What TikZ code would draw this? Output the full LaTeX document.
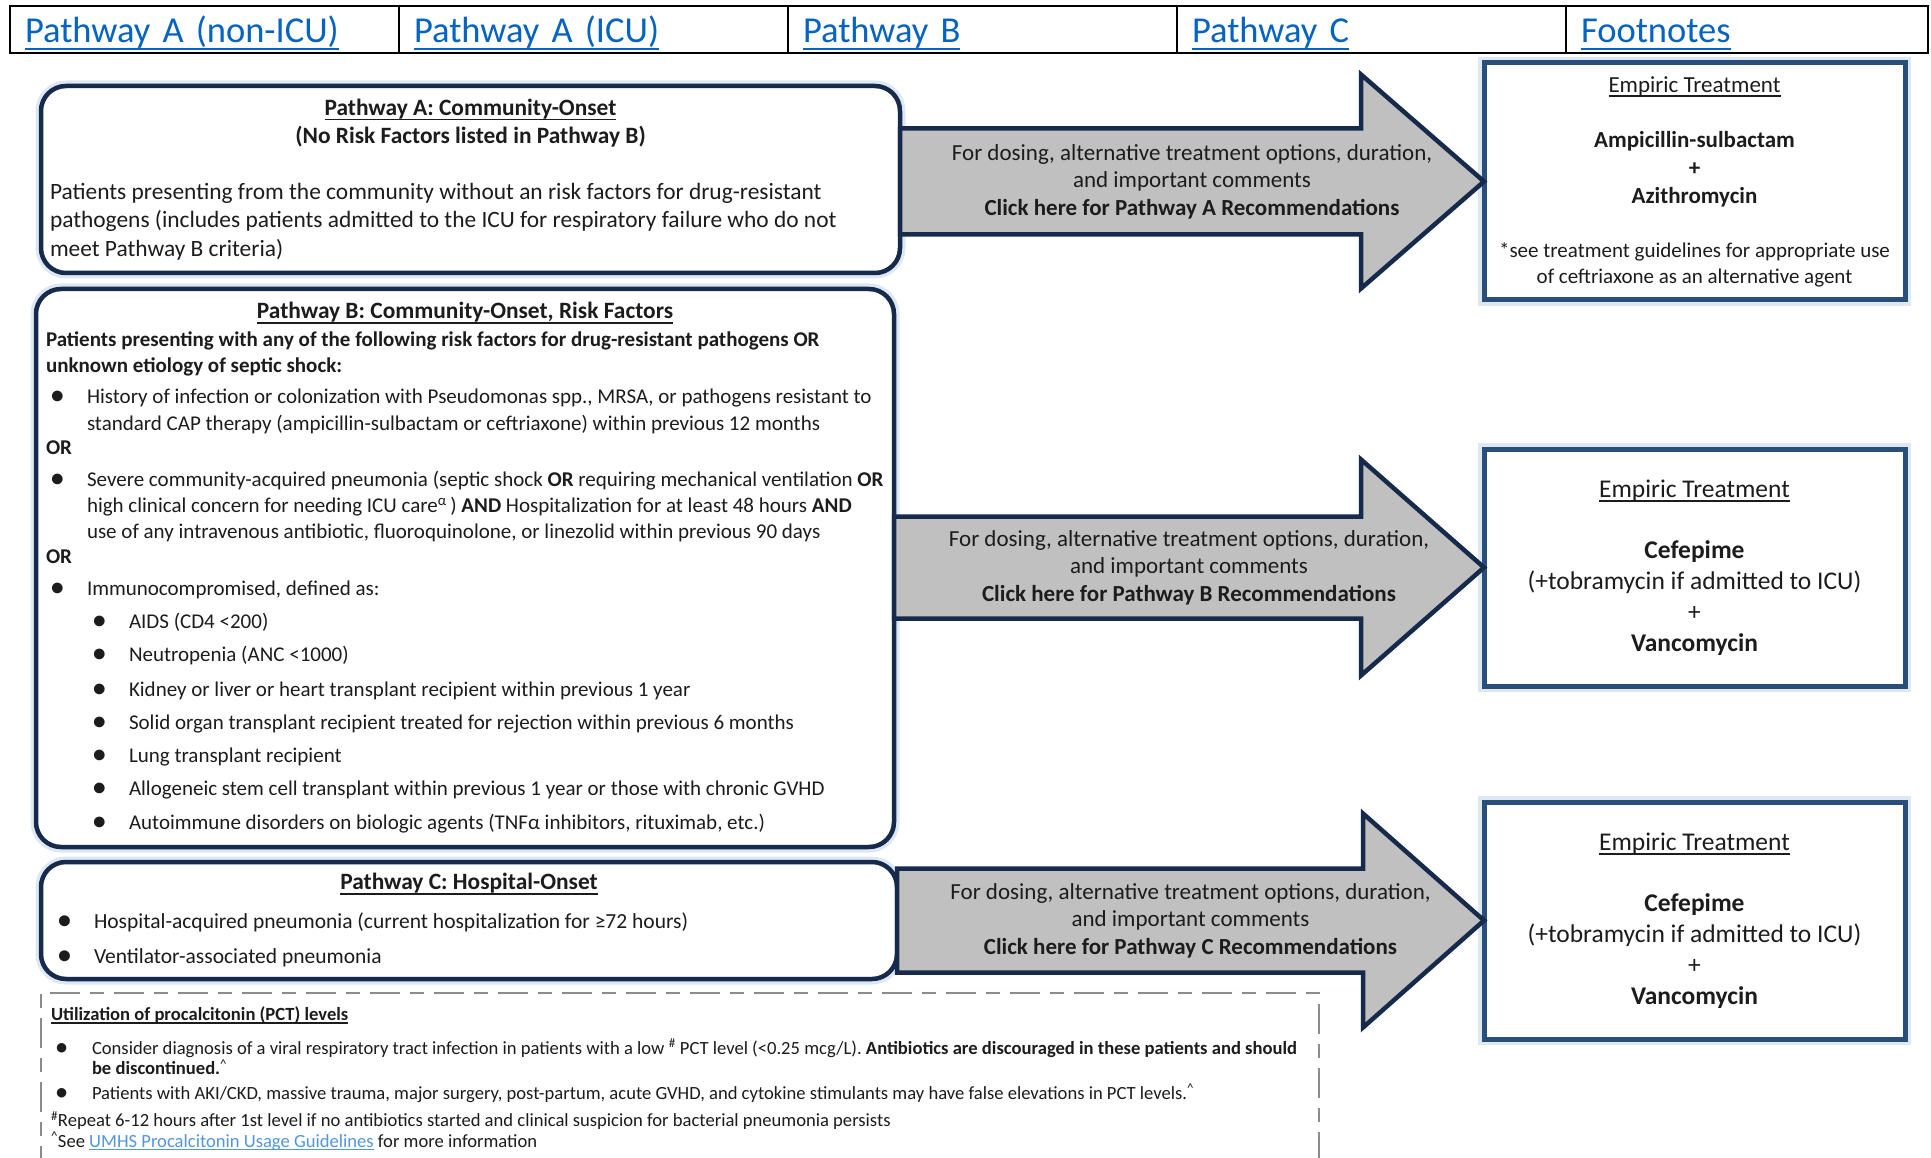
\documentclass[tikz,border=0pt]{standalone}
\usepackage{fontspec}
\setmainfont{Carlito}
\usepackage{graphicx}
\usepackage{xcolor}
\usepackage{tikz}
\usetikzlibrary{positioning,calc}
\definecolor{pathnavy}{RGB}{22,42,76}
\definecolor{treatblue}{RGB}{40,79,122}
\definecolor{arrowgray}{RGB}{192,192,192}
\definecolor{tablink}{RGB}{5,99,193}
\definecolor{pctlink}{RGB}{84,150,220}
\definecolor{dashgray}{RGB}{140,140,140}
\definecolor{inkgray}{RGB}{28,28,28}
\definecolor{haze}{RGB}{222,232,242}
\newcommand{\bdot}{\scalebox{1.2}{\textbf{\textbullet}}}
\newcommand{\blt}{\makebox[41pt][l]{\hspace{5pt}\bdot}}
\newcommand{\sublt}{\hspace*{47pt}\makebox[36pt][l]{\bdot}}
\newcommand{\cont}{\hspace*{41pt}}
\newlength{\uldepth}
\newcommand{\ulthick}{1.8pt}
\newsavebox{\ulbox}
\newcommand{\ulset}[2]{\setlength{\uldepth}{#1}\renewcommand{\ulthick}{#2}}
\newcommand{\uln}[1]{\sbox{\ulbox}{#1}\rlap{\rule[-\uldepth]{\wd\ulbox}{\ulthick}}\usebox{\ulbox}}
\newcommand{\titlesize}{\fontsize{23.4}{28}\selectfont}

\begin{document}
\begin{tikzpicture}[
  x=1pt, y=-1pt,
  tab/.style={draw, line width=2.3pt, outer sep=0pt, minimum height=47pt, minimum width=389pt,
    inner xsep=15pt, inner ysep=0pt, text width=359pt, align=left, text height=27pt, text depth=0pt,
    text=tablink, font=\fontsize{36.5}{44}\selectfont\ulset{7pt}{2.3pt}},
  pathbox/.style={draw=pathnavy, line width=4.5pt, rounded corners=25pt, fill=white, align=left,
    outer sep=0pt, text=inkgray, preaction={draw=haze, line width=11pt}},
  treat/.style={draw=treatblue, line width=5pt, fill=white, minimum width=421pt, minimum height=237pt,
    align=center, outer sep=0pt, text=inkgray, preaction={draw=haze, line width=12pt}},
  blockarrow/.style={draw=pathnavy, line width=4.5pt, fill=arrowgray, line join=miter},
  arrowtext/.style={align=center, text=inkgray, font=\fontsize{23}{27.5}\selectfont},
  pctbox/.style={draw=dashgray, line width=2.5pt, dash pattern=on 30pt off 10pt on 14pt off 10pt,
    align=left, outer sep=0pt, text=inkgray, font=\fontsize{18.6}{20.5}\selectfont\ulset{3pt}{1.3pt}},
]
\fill[white] (0,0) rectangle (1931,1158);
\useasboundingbox (0,0) rectangle (1931,1158);

% tabs
\node[tab] (tab1) at (204.5,29.5) {\uln{Pathway A (non-ICU)}};
\node[tab, right=0pt of tab1] (tab2) {\uln{Pathway A (ICU)}};
\node[tab, right=0pt of tab2] (tab3) {\uln{Pathway B}};
\node[tab, right=0pt of tab3] (tab4) {\uln{Pathway C}};
\node[tab, right=0pt of tab4, minimum width=362pt, text width=332pt] (tab5) {\uln{Footnotes}};

% pathways
\node[pathbox, minimum width=859pt, minimum height=187pt, inner xsep=9pt,
  font=\fontsize{23.4}{28.5}\selectfont\ulset{5pt}{1.8pt}] (pa) at (470.5,179.5) {%
\makebox[841pt][c]{\uln{\textbf{Pathway A: Community-Onset}}}\\
\makebox[841pt][c]{\textbf{(No Risk Factors listed in Pathway B)}}\\[27pt]
Patients presenting from the community without an risk factors for drug-resistant\\
pathogens (includes patients admitted to the ICU for respiratory failure who do not\\
meet Pathway B criteria)};

\node[pathbox, minimum width=858pt, minimum height=558pt, inner xsep=10pt,
  font=\fontsize{21}{26}\selectfont\ulset{5pt}{1.8pt}] (pb) at (465,568) {%
\makebox[838pt][c]{\titlesize\uln{\textbf{Pathway B: Community-Onset, Risk Factors}}}\\[2pt]
\textbf{Patients presenting with any of the following risk factors for drug-resistant pathogens OR}\\
\textbf{unknown etiology of septic shock:}\\[5pt]
\blt History of infection or colonization with Pseudomonas spp., MRSA, or pathogens resistant to\\[1pt]
\cont standard CAP therapy (ampicillin-sulbactam or ceftriaxone) within previous 12 months\\[-2pt]
\textbf{OR}\\[6pt]
\blt Severe community-acquired pneumonia (septic shock \textbf{OR} requiring mechanical ventilation \textbf{OR}\\
\cont high clinical concern for needing ICU care\textsuperscript{α}\,) \textbf{AND} Hospitalization for at least 48 hours \textbf{AND}\\
\cont use of any intravenous antibiotic, fluoroquinolone, or linezolid within previous 90 days\\[-1pt]
\textbf{OR}\\[6pt]
\blt Immunocompromised, defined as:\\[7pt]
\sublt AIDS (CD4 <200)\\[7pt]
\sublt Neutropenia (ANC <1000)\\[9pt]
\sublt Kidney or liver or heart transplant recipient within previous 1 year\\[7pt]
\sublt Solid organ transplant recipient treated for rejection within previous 6 months\\[7pt]
\sublt Lung transplant recipient\\[7pt]
\sublt Allogeneic stem cell transplant within previous 1 year or those with chronic GVHD\\[8pt]
\sublt Autoimmune disorders on biologic agents (TNFα inhibitors, rituximab, etc.)};

\node[pathbox, minimum width=856pt, minimum height=117pt, inner xsep=12pt,
  font=\fontsize{21.5}{35}\selectfont\ulset{5pt}{1.8pt}] (pc) at (469,920.5) {%
\makebox[832pt][c]{\titlesize\uln{\textbf{Pathway C: Hospital-Onset}}}\\[4pt]
\blt Hospital-acquired pneumonia (current hospitalization for ≥72 hours)\\
\blt Ventilator-associated pneumonia};

% empiric treatment
\node[treat, font=\fontsize{23}{28}\selectfont\ulset{5pt}{1.7pt}] (ta) at (1694.5,181.5) {%
\uln{Empiric Treatment}\\[27pt]
\textbf{Ampicillin-sulbactam}\\
\textbf{+}\\
\textbf{Azithromycin}\\[26pt]
{\fontsize{21}{26}\selectfont *see treatment guidelines for appropriate use}\\[-2pt]
{\fontsize{21}{26}\selectfont of ceftriaxone as an alternative agent}};

\node[treat, font=\fontsize{25.5}{31}\selectfont\ulset{5pt}{1.8pt}] (tb) at (1694.5,567.5) {%
\uln{Empiric Treatment}\\[30pt]
\textbf{Cefepime}\\
(+tobramycin if admitted to ICU)\\
+\\
\textbf{Vancomycin}};

\node[treat, font=\fontsize{25.5}{31}\selectfont\ulset{5pt}{1.8pt}] (tc) at (1694.5,920.5) {%
\uln{Empiric Treatment}\\[30pt]
\textbf{Cefepime}\\
(+tobramycin if admitted to ICU)\\
+\\
\textbf{Vancomycin}};

% block arrows
\draw[blockarrow] ($(pa.east |- ta.west)+(0,-53)$) -- ($(ta.west)+(-123,-53)$) -- ($(ta.west)+(-123,-107)$) -- (ta.west)
  -- ($(ta.west)+(-123,107)$) -- ($(ta.west)+(-123,53)$) -- ($(pa.east |- ta.west)+(0,53)$) -- cycle;
\draw[blockarrow] ($(pb.east |- tb.west)+(0,-51)$) -- ($(tb.west)+(-123,-51)$) -- ($(tb.west)+(-123,-108)$) -- (tb.west)
  -- ($(tb.west)+(-123,108)$) -- ($(tb.west)+(-123,51)$) -- ($(pb.east |- tb.west)+(0,51)$) -- cycle;
\draw[blockarrow] ($(pc.east |- tc.west)+(0,-52)$) -- ($(tc.west)+(-121,-52)$) -- ($(tc.west)+(-121,-107)$) -- (tc.west)
  -- ($(tc.west)+(-121,107)$) -- ($(tc.west)+(-121,52)$) -- ($(pc.east |- tc.west)+(0,52)$) -- cycle;

\node[arrowtext] (atxt) at ($(pa.east |- ta.west)!0.5!(ta.west)$) {For dosing, alternative treatment options, duration,\\ and important comments\\ \textbf{Click here for Pathway A Recommendations}};
\node[arrowtext] (btxt) at ($(pb.east |- tb.west)!0.5!(tb.west)$) {For dosing, alternative treatment options, duration,\\ and important comments\\ \textbf{Click here for Pathway B Recommendations}};
\node[arrowtext] (ctxt) at ($(pc.east |- tc.west)!0.5!(tc.west)$) {For dosing, alternative treatment options, duration,\\ and important comments\\ \textbf{Click here for Pathway C Recommendations}};

% procalcitonin notes
\node[pctbox, minimum width=1278pt, minimum height=171pt, inner xsep=10pt] (pct) at (680,1078.5) {%
\makebox[1258pt][l]{\uln{\textbf{Utilization of procalcitonin (PCT) levels}}}\\[13pt]
\blt Consider diagnosis of a viral respiratory tract infection in patients with a low \textsuperscript{\#} PCT level (<0.25 mcg/L). \textbf{Antibiotics are discouraged in these patients and should}\\
\cont\textbf{be discontinued.}\textsuperscript{\textasciicircum}\\[4pt]
\blt Patients with AKI/CKD, massive trauma, major surgery, post-partum, acute GVHD, and cytokine stimulants may have false elevations in PCT levels.\textsuperscript{\textasciicircum}\\[7pt]
\textsuperscript{\#}Repeat 6-12 hours after 1st level if no antibiotics started and clinical suspicion for bacterial pneumonia persists\\
\textsuperscript{\textasciicircum}See \textcolor{pctlink}{\uln{UMHS Procalcitonin Usage Guidelines}} for more information};
\end{tikzpicture}
\end{document}
